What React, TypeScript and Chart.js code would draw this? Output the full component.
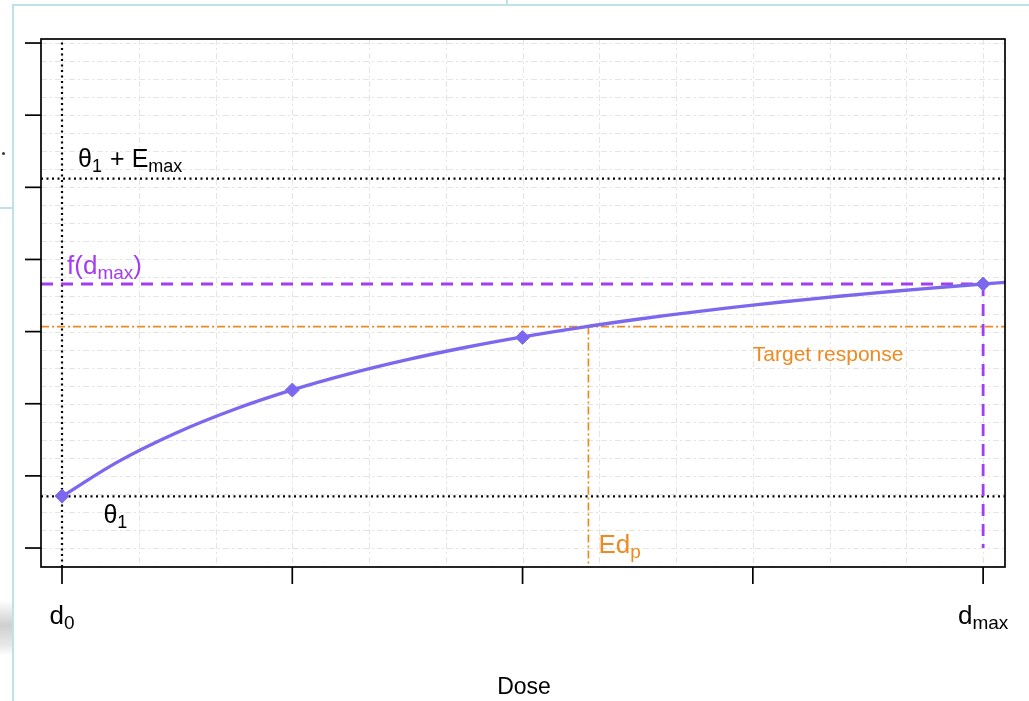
import React, { useEffect, useRef } from "react";
import { Chart, registerables } from "chart.js";

Chart.register(...registerables);

// ---- data ----
const doses = [0, 1, 2, 4];
const doseResponse = [0.72, 2.19, 2.92, 3.66];
const curveDose = [0, 0.25, 0.5, 0.75, 1, 1.25, 1.5, 1.75, 2, 2.25, 2.5, 2.75, 3, 3.25, 3.5, 3.75, 4, 4.1];
const curveResponse = [0.715, 1.208, 1.602, 1.924, 2.192, 2.418, 2.612, 2.78, 2.927, 3.056, 3.171, 3.274, 3.367, 3.451, 3.527, 3.596, 3.66, 3.684];
const theta1 = 0.715;
const theta1PlusEmax = 5.12;
const fDmax = 3.66;
const targetResponse = 3.07;
const edP = 2.286;
const dMax = 4;
const xTicks = [0, 1, 2, 3, 4];
const xTickMain = ["d", "", "", "", "d"];
const xTickSub = ["0", "", "", "", "max"];
const yTicks = [0, 1, 2, 3, 4, 5, 6, 7];
const xLimits = [-0.0912, 4.095];
const yLimits = [-0.263, 7.056];
const xGridStep = 1 / 3;
const yGridStep = 0.25;

const FONT = '"Liberation Sans", Arial, Helvetica, sans-serif';
const CURVE = "#7B68EE";
const PURPLE = "#A43CF0";
const ORANGE = "#EE8A22";

type Seg = { t: string; sub?: boolean; gap?: number };

function drawMath(
  ctx: CanvasRenderingContext2D,
  segs: Seg[],
  x: number,
  y: number,
  size: number,
  color: string,
  align: "left" | "center"
) {
  const subSize = Math.round(size * 0.72);
  ctx.save();
  ctx.fillStyle = color;
  ctx.textBaseline = "alphabetic";
  ctx.textAlign = "left";
  const widths = segs.map((s) => {
    ctx.font = `${s.sub ? subSize : size}px ${FONT}`;
    return ctx.measureText(s.t).width + (s.gap || 0);
  });
  const total = widths.reduce((a, b) => a + b, 0);
  let cx = align === "center" ? x - total / 2 : x;
  segs.forEach((s, i) => {
    ctx.font = `${s.sub ? subSize : size}px ${FONT}`;
    ctx.fillText(s.t, cx, s.sub ? y + size * 0.2 : y);
    cx += widths[i];
  });
  ctx.restore();
}

const gridPlugin = {
  id: "rgrid",
  beforeDatasetsDraw(chart: any) {
    const { ctx, chartArea: a, scales } = chart;
    const xs = scales.x;
    const ys = scales.y;
    ctx.save();
    ctx.strokeStyle = "#e4e4e4";
    ctx.lineWidth = 1;
    ctx.setLineDash([6, 3, 2, 3]);
    for (let k = Math.ceil(xLimits[0] / xGridStep); k * xGridStep <= xLimits[1]; k++) {
      const px = Math.round(xs.getPixelForValue(k * xGridStep)) + 0.5;
      ctx.beginPath();
      ctx.moveTo(px, a.top);
      ctx.lineTo(px, a.bottom);
      ctx.stroke();
    }
    for (let j = Math.ceil(yLimits[0] / yGridStep); j * yGridStep <= yLimits[1]; j++) {
      const py = Math.round(ys.getPixelForValue(j * yGridStep)) + 0.5;
      ctx.beginPath();
      ctx.moveTo(a.left, py);
      ctx.lineTo(a.right, py);
      ctx.stroke();
    }
    ctx.restore();
  },
};

const framePlugin = {
  id: "rframe",
  afterDraw(chart: any) {
    const { ctx, chartArea: a, scales } = chart;
    const xs = scales.x;
    const ys = scales.y;
    ctx.save();
    ctx.strokeStyle = "#000";
    ctx.lineWidth = 1.7;
    ctx.setLineDash([]);
    ctx.strokeRect(a.left, a.top, a.right - a.left, a.bottom - a.top);
    yTicks.forEach((v) => {
      const py = ys.getPixelForValue(v);
      ctx.beginPath();
      ctx.moveTo(a.left - 16, py);
      ctx.lineTo(a.left, py);
      ctx.stroke();
    });
    xTicks.forEach((v, i) => {
      const px = xs.getPixelForValue(v);
      ctx.beginPath();
      ctx.moveTo(px, a.bottom);
      ctx.lineTo(px, a.bottom + 17);
      ctx.stroke();
      if (xTickMain[i]) {
        drawMath(ctx, [{ t: xTickMain[i] }, { t: xTickSub[i], sub: true }], px, a.bottom + 57, 26, "#000", "center");
      }
    });
    ctx.restore();

    // axis title
    ctx.save();
    ctx.fillStyle = "#000";
    ctx.font = `23px ${FONT}`;
    ctx.textAlign = "center";
    ctx.textBaseline = "alphabetic";
    ctx.fillText("Dose", (a.left + a.right) / 2 + 1, a.bottom + 127);
    ctx.restore();

    // annotations
    drawMath(
      ctx,
      [{ t: "θ" }, { t: "1", sub: true, gap: 8 }, { t: "+", gap: 7 }, { t: "E" }, { t: "max", sub: true }],
      xs.getPixelForValue(0.07),
      ys.getPixelForValue(theta1PlusEmax) - 12,
      25,
      "#000",
      "left"
    );
    drawMath(
      ctx,
      [{ t: "θ" }, { t: "1", sub: true }],
      xs.getPixelForValue(0.18),
      ys.getPixelForValue(theta1) + 27,
      25,
      "#000",
      "left"
    );
    drawMath(
      ctx,
      [{ t: "f(d" }, { t: "max", sub: true }, { t: ")" }],
      xs.getPixelForValue(0.022),
      ys.getPixelForValue(fDmax) - 10,
      26,
      PURPLE,
      "left"
    );
    drawMath(
      ctx,
      [{ t: "Ed" }, { t: "p", sub: true }],
      xs.getPixelForValue(edP) + 10,
      a.bottom - 14,
      26,
      ORANGE,
      "left"
    );
    ctx.save();
    ctx.fillStyle = ORANGE;
    ctx.font = `21px ${FONT}`;
    ctx.textAlign = "left";
    ctx.textBaseline = "alphabetic";
    ctx.fillText("Target response", xs.getPixelForValue(3), ys.getPixelForValue(targetResponse) + 34);
    ctx.restore();
  },
};

function refLine(pts: { x: number; y: number }[], color: string, width: number, dash: number[]) {
  return {
    data: pts,
    showLine: true,
    borderColor: color,
    backgroundColor: color,
    borderWidth: width,
    borderDash: dash,
    pointRadius: 0,
    fill: false,
    tension: 0,
  };
}

export default function App() {
  const canvasRef = useRef<HTMLCanvasElement | null>(null);

  useEffect(() => {
    const canvas = canvasRef.current;
    if (!canvas) return;
    const dotted = [2, 3.5];
    const chart = new Chart(canvas, {
      type: "scatter",
      data: {
        datasets: [
          {
            data: doses.map((x, i) => ({ x, y: doseResponse[i] })),
            pointStyle: "rectRot",
            pointRadius: 7,
            pointBackgroundColor: CURVE,
            pointBorderColor: CURVE,
            showLine: false,
          } as any,
          {
            data: curveDose.map((x, i) => ({ x, y: curveResponse[i] })),
            showLine: true,
            borderColor: CURVE,
            borderWidth: 3.4,
            pointRadius: 0,
            tension: 0.4,
            fill: false,
          },
          refLine([{ x: xLimits[0], y: fDmax }, { x: dMax, y: fDmax }], PURPLE, 2.8, [12, 8]),
          refLine([{ x: dMax, y: fDmax }, { x: dMax, y: 0 }], PURPLE, 2.8, [12, 8]),
          refLine([{ x: xLimits[0], y: targetResponse }, { x: xLimits[1], y: targetResponse }], ORANGE, 1.7, [8, 3, 2, 3]),
          refLine([{ x: edP, y: targetResponse }, { x: edP, y: yLimits[0] }], ORANGE, 1.7, [8, 3, 2, 3]),
          refLine([{ x: xLimits[0], y: theta1 }, { x: xLimits[1], y: theta1 }], "#000", 2.2, dotted),
          refLine([{ x: xLimits[0], y: theta1PlusEmax }, { x: xLimits[1], y: theta1PlusEmax }], "#000", 2.2, dotted),
          refLine([{ x: 0, y: yLimits[0] }, { x: 0, y: yLimits[1] }], "#000", 2.2, dotted),
        ] as any,
      },
      options: {
        animation: false,
        responsive: false,
        devicePixelRatio: 1,
        layout: { padding: { left: 41, top: 39, right: 24, bottom: 134 } },
        plugins: { legend: { display: false }, tooltip: { enabled: false } },
        scales: {
          x: { type: "linear", min: xLimits[0], max: xLimits[1], display: false },
          y: { type: "linear", min: yLimits[0], max: yLimits[1], display: false },
        },
      },
      plugins: [gridPlugin, framePlugin],
    });
    return () => chart.destroy();
  }, []);

  const blue = "#bde2e8";
  return (
    <div style={{ position: "absolute", left: 0, top: 0, width: 1029, height: 701, background: "#fff", overflow: "hidden" }}>
      <div style={{ position: "absolute", left: 13, top: 4, width: 1016, height: 2, background: blue }} />
      <div style={{ position: "absolute", left: 12, top: 4, width: 2, height: 697, background: blue }} />
      <div style={{ position: "absolute", left: 506, top: 0, width: 2, height: 5, background: blue }} />
      <div style={{ position: "absolute", left: 0, top: 207, width: 13, height: 2, background: blue }} />
      <div
        style={{
          position: "absolute",
          left: 0,
          top: 600,
          width: 12,
          height: 56,
          background: "linear-gradient(to bottom, #ffffff, #cfcfcf 45%, #e8e8e8 80%, #ffffff)",
        }}
      />
      <div style={{ position: "absolute", left: 2, top: 152, width: 3, height: 3, borderRadius: 2, background: "#334" }} />
      <canvas ref={canvasRef} width={1029} height={701} style={{ position: "absolute", left: 0, top: 0, display: "block" }} />
    </div>
  );
}
